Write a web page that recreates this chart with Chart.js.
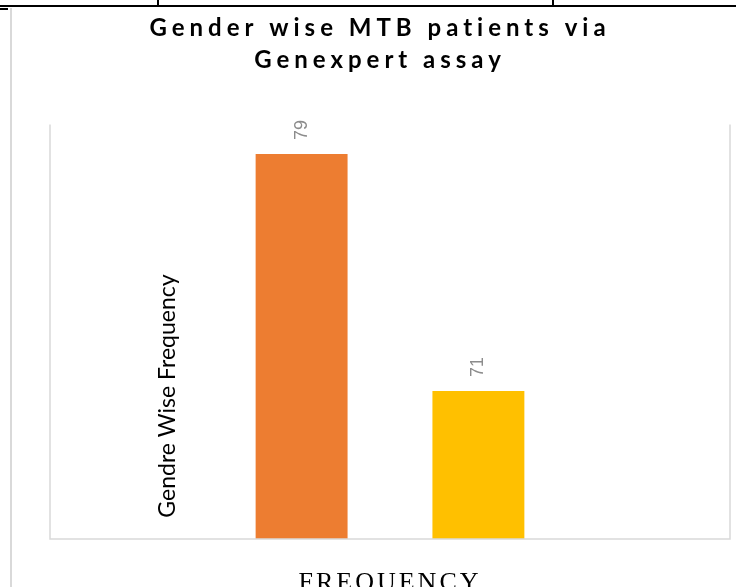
<!DOCTYPE html>
<html>
<head>
<meta charset="utf-8">
<script src="https://cdn.jsdelivr.net/npm/chart.js@4"></script>
<style>
  html, body { margin: 0; padding: 0; background: #fff; }
  #wrap { position: relative; width: 736px; height: 587px; overflow: hidden; }
  #chart { position: absolute; left: 0; top: 0; }
  .rule { position: absolute; background: #000; }
  .frame { position: absolute; background: #d9d9d9; }
</style>
</head>
<body>
<div id="wrap">
  <canvas id="chart" width="736" height="587"></canvas>
  <!-- bits of the document table/chart frame around the chart -->
  <div class="rule" style="left:0;top:5px;width:736px;height:2px"></div>
  <div class="rule" style="left:157px;top:0;width:2px;height:6px"></div>
  <div class="rule" style="left:552px;top:0;width:2px;height:6px"></div>
  <div class="rule" style="left:0;top:8px;width:8px;height:2px"></div>
  <div class="frame" style="left:10px;top:8px;width:2px;height:579px"></div>
</div>
<script>
const categories = ['FREQUENCY'];
const seriesNames = ['Male', 'Female'];
const maleValues = [79];
const femaleValues = [71];
const seriesColors = ['#ED7D31', '#FFC000'];
const yRange = [66, 80];
const titleLines = ['Gender wise MTB patients via', 'Genexpert assay'];
const yTitle = 'Gendre Wise Frequency';

// wide letter spacing for the title (drawn before datasets)
const spacing = {
  id: 'spacing',
  beforeDraw(chart) { chart.ctx.letterSpacing = '5px'; },
  afterDraw(chart) { chart.ctx.letterSpacing = '0px'; }
};

// open box round the plot, rotated value labels, axis title inside the plot
const extras = {
  id: 'extras',
  afterDatasetsDraw(chart) {
    const ctx = chart.ctx;
    const a = chart.chartArea;
    ctx.save();
    ctx.letterSpacing = '0px';
    ctx.strokeStyle = '#d9d9d9';
    ctx.lineWidth = 1.5;
    ctx.beginPath();
    ctx.moveTo(a.left, a.top);
    ctx.lineTo(a.left, a.bottom);
    ctx.lineTo(a.right, a.bottom);
    ctx.lineTo(a.right, a.top);
    ctx.stroke();

    ctx.font = '18px "Liberation Sans"';
    ctx.fillStyle = '#8c8c8c';
    chart.data.datasets.forEach((ds, i) => {
      chart.getDatasetMeta(i).data.forEach((bar, j) => {
        ctx.save();
        ctx.translate(bar.x, bar.y - 14);
        ctx.rotate(-Math.PI / 2);
        ctx.textAlign = 'left';
        ctx.textBaseline = 'middle';
        ctx.fillText(String(ds.data[j]), 0, 0);
        ctx.restore();
      });
    });

    ctx.font = '23px Lato';
    ctx.fillStyle = '#000';
    ctx.translate(a.left + 118, a.bottom - 143);
    ctx.rotate(-Math.PI / 2);
    ctx.textAlign = 'center';
    ctx.textBaseline = 'middle';
    ctx.fillText(yTitle, 0, 0);
    ctx.restore();
    // x tick labels (ticks.z: 1) are drawn after this, with their own spacing
    ctx.letterSpacing = '3px';
  }
};

new Chart(document.getElementById('chart'), {
  type: 'bar',
  data: {
    labels: categories,
    datasets: [
      { label: seriesNames[0], data: maleValues, backgroundColor: seriesColors[0] },
      { label: seriesNames[1], data: femaleValues, backgroundColor: seriesColors[1] }
    ]
  },
  options: {
    responsive: false,
    animation: false,
    events: [],
    categoryPercentage: 0.52,
    barPercentage: 0.52,
    layout: { padding: { left: 30, right: 6, top: 0, bottom: 0 } },
    plugins: {
      legend: { display: false },
      tooltip: { enabled: false },
      title: {
        display: true,
        text: titleLines,
        color: '#000',
        font: { family: 'Lato', weight: 'bold', size: 24, lineHeight: 1.3 },
        padding: { top: 13, bottom: 49 }
      }
    },
    scales: {
      x: {
        grid: { display: false },
        border: { display: false },
        ticks: {
          z: 1,
          color: '#000',
          padding: 21,
          font: { family: '"Liberation Serif"', size: 26 }
        },
        afterFit(s) { s.height = 48; }
      },
      y: {
        min: yRange[0],
        max: yRange[1],
        grid: { display: false },
        border: { display: false },
        ticks: { display: false },
        afterFit(s) { s.width = 20; }
      }
    }
  },
  plugins: [spacing, extras]
});
</script>
</body>
</html>
